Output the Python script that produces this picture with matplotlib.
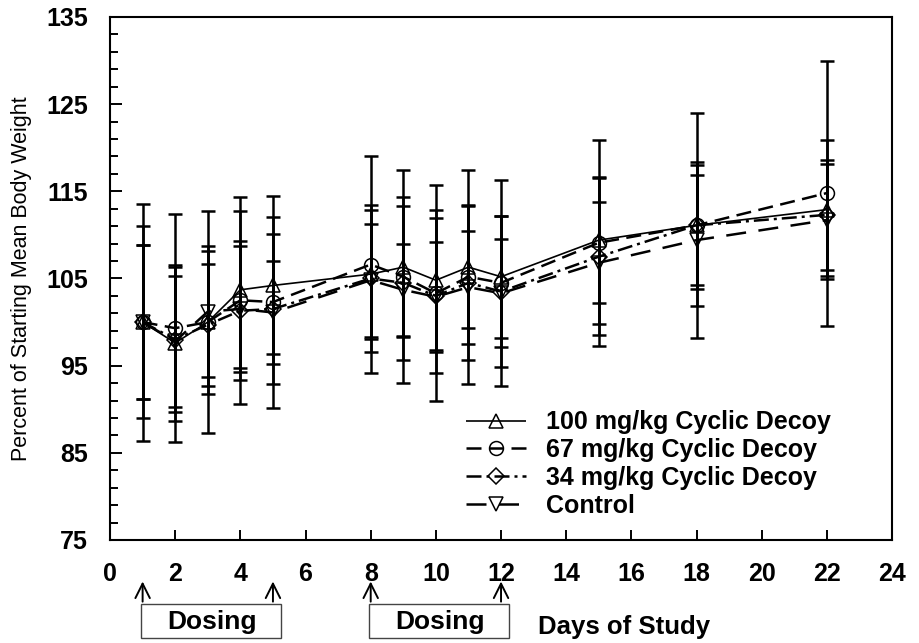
import matplotlib
matplotlib.use("Agg")
import matplotlib.pyplot as plt
from matplotlib.patches import Rectangle
import matplotlib.transforms as mtransforms

plt.rcParams['font.family'] = ['Liberation Sans', 'DejaVu Sans']

# days on which body weight was measured
days = [1, 2, 3, 4, 5, 8, 9, 10, 11, 12, 15, 18, 22]

# mean % of starting body weight and SD, per group
mean_100 = [100.0, 97.6, 100.0, 103.7, 104.2, 105.5, 106.3, 104.8, 106.3, 105.2, 109.4, 111.1, 112.9]
sd_100 = [11.0, 8.9, 8.2, 9.0, 7.9, 7.4, 8.0, 8.0, 7.0, 7.0, 7.2, 7.3, 8.0]

mean_67 = [100.0, 99.3, 100.0, 102.5, 102.3, 106.6, 105.2, 103.3, 105.2, 104.5, 109.1, 111.1, 114.8]
sd_67 = [13.6, 13.1, 12.7, 11.9, 12.2, 12.4, 12.2, 12.4, 12.3, 11.8, 11.8, 12.9, 15.2]

mean_34 = [100.0, 98.0, 99.7, 101.3, 101.5, 105.0, 104.5, 103.0, 104.5, 103.5, 107.5, 111.1, 112.3]
sd_34 = [8.8, 8.3, 7.0, 8.0, 8.6, 8.4, 8.8, 8.9, 8.9, 8.7, 9.0, 6.9, 6.3]

mean_ctrl = [100.0, 97.8, 101.2, 101.5, 101.1, 104.8, 103.7, 102.9, 104.0, 103.3, 106.8, 109.4, 111.7]
sd_ctrl = [8.8, 7.5, 7.5, 7.2, 5.9, 6.5, 5.3, 6.3, 6.5, 6.2, 7.0, 7.5, 6.4]

labels = ['100 mg/kg Cyclic Decoy', '67 mg/kg Cyclic Decoy',
          '34 mg/kg Cyclic Decoy', 'Control']

# dosing periods (first and last dosing day)
dosing_start = [1, 8]
dosing_end = [5, 12]

fig = plt.figure(figsize=(9.2, 6.43), dpi=100)
ax = fig.add_axes([0.1196, 0.1602, 0.85, 0.8134])

series = [
    (mean_100, sd_100, '^', (0, ()), 1.2),
    (mean_67, sd_67, 'o', (0, (6, 3)), 1.8),
    (mean_34, sd_34, 'D', (0, (6, 2, 1.2, 2)), 1.8),
    (mean_ctrl, sd_ctrl, 'v', (0, (8, 5)), 1.8),
]

for (m, s, mk, ls, lw), lab in zip(series, labels):
    ax.errorbar(days, m, yerr=s, fmt='none', ecolor='black',
                elinewidth=1.8, capsize=4.9, capthick=1.8, zorder=2)
    ms = 8.5 if mk == 'D' else 10
    ax.plot(days, m, linestyle=ls, linewidth=lw, color='black',
            marker=mk, markersize=ms, markerfacecolor='none',
            markeredgecolor='black', markeredgewidth=1.1, label=lab, zorder=3)

ax.set_xlim(0, 24)
ax.set_ylim(75, 135)
ax.set_xticks(range(0, 25, 2))
ax.set_yticks(range(75, 136, 10))
ax.set_yticks(range(75, 136, 2), minor=True)

ax.tick_params(axis='both', which='both', direction='in', width=1.4)
ax.tick_params(axis='y', which='major', length=8.5, pad=16, labelsize=18)
ax.tick_params(axis='y', which='minor', length=5.8)
ax.tick_params(axis='x', which='major', length=7, pad=16, labelsize=18)
for t in ax.get_xticklabels() + ax.get_yticklabels():
    t.set_fontweight('bold')

for sp in ax.spines.values():
    sp.set_linewidth(1.5)

ax.set_ylabel('Percent of Starting Mean Body Weight', fontsize=15.5)
ax.yaxis.set_label_coords(-0.1, 0.5)

leg = ax.legend(loc='upper left', bbox_to_anchor=(0.455, 0.248), frameon=False,
                prop={'weight': 'bold', 'size': 18}, handlelength=2.4,
                handletextpad=0.8, labelspacing=0.15, borderpad=0,
                borderaxespad=0)

# dosing arrows and boxes below the x axis
trans = mtransforms.blended_transform_factory(ax.transData, fig.transFigure)
for a, b in zip(dosing_start, dosing_end):
    for d in (a, b):
        ax.annotate('', xy=(d, 0.1), xytext=(d, 0.06),
                    xycoords=trans, textcoords=trans,
                    arrowprops=dict(arrowstyle='->', lw=1.4, color='black',
                                    mutation_scale=26),
                    annotation_clip=False)
    box = Rectangle((a - 0.05, 0.007), b - a + 0.3, 0.053, transform=trans,
                    facecolor='white', edgecolor='#444444', lw=1.0,
                    clip_on=False)
    ax.add_patch(box)
    ax.text((a + b + 0.25) / 2, 0.033, 'Dosing', transform=trans,
            ha='center', va='center', fontsize=19, fontweight='bold')

fig.text(0.585, 0.025, 'Days of Study', ha='left', va='center',
         fontsize=18.5, fontweight='bold')

fig.savefig('out.png', dpi=100)
